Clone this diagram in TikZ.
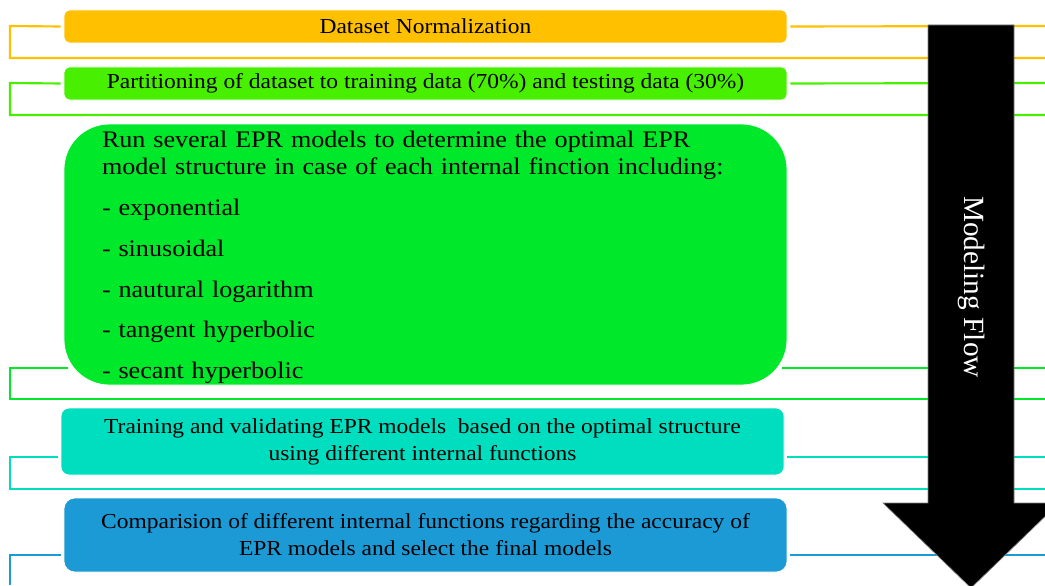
\documentclass[tikz,border=0pt]{standalone}
\usepackage{fontspec}
\setmainfont[FakeStretch=1.1]{Liberation Serif}
\newfontfamily\flowfont{Liberation Serif}
\usetikzlibrary{calc}
\definecolor{cOrange}{RGB}{255,192,0}
\definecolor{cLime}{RGB}{72,240,0}
\definecolor{cGreen}{RGB}{0,232,42}
\definecolor{cTeal}{RGB}{0,222,192}
\definecolor{cBlue}{RGB}{28,154,214}
\tikzset{
  stage/.style={draw=white, line width=0.6pt, inner sep=0pt, minimum width=542.25pt,
    align=center, font=\fontsize{16}{20.25}\selectfont},
  bracket/.style={line width=1.6pt},
}
\begin{document}
\begin{tikzpicture}[x=0.75pt, y=-0.75pt]
\useasboundingbox (0,0) rectangle (1045,585);

% stage boxes
\node[stage, fill=cOrange, rounded corners=4pt, minimum height=24.75pt] (s1) at (425.5,26.5) {Dataset Normalization};
\node[stage, fill=cLime, rounded corners=4pt, minimum height=24.75pt] (s2) at (425.5,83.5)
  {Partitioning of dataset to training data (70\%) and testing data (30\%)};
\node[stage, fill=cGreen, rounded corners=34pt, minimum height=195.75pt] (s3) at (425.5,254.5) {};
\node[align=left, inner sep=0pt, text width=485.25pt, font=\fontsize{17.8}{20.25}\selectfont]
  (s3text) at ($(s3.center)+(0,3)$)
  {Run several EPR models to determine the optimal EPR\\
   model structure in case of each internal finction including:\\[10.3pt]
   - exponential\\[10.3pt]
   - sinusoidal\\[10.3pt]
   - nautural logarithm\\[10.3pt]
   - tangent hyperbolic\\[10.3pt]
   - secant hyperbolic};
\node[stage, fill=cTeal, rounded corners=6pt, minimum height=50.25pt] (s4) at (422.5,441.5)
  {Training and validating EPR models\ \ based on the optimal structure\\
   using different internal functions};
\node[stage, fill=cBlue, rounded corners=8pt, minimum height=55.5pt] (s5) at (425.5,535)
  {Comparision of different internal functions regarding the accuracy of\\
   EPR models and select the final models};

% side brackets of each stage
\coordinate (e1) at (1045,58);
\coordinate (e2) at (1045,115);
\coordinate (e3) at (1045,399);
\coordinate (e4) at (1045,489);
\coordinate (e5) at (10,585);

\draw[bracket, cOrange] ($(s1.west)+(-3,0)$) -- (10,26) -- (10,58) -- (e1);
\draw[bracket, cOrange] ($(s1.east)+(3,0)$) -- (1045,26);
\draw[bracket, cLime] ($(s2.west)+(-3,0)$) -- (10,83) -- (10,115) -- (e2);
\draw[bracket, cLime] ($(s2.east)+(3,0)$) -- (1045,83);
\draw[bracket, cGreen] ($(s3.west |- 0,368)+(4,0)$) -- (10,368) -- (10,399) -- (e3);
\draw[bracket, cGreen] ($(s3.east |- 0,368)+(-5,0)$) -- (1045,368);
\draw[bracket, cTeal] ($(s4.west |- 0,457)+(-3,0)$) -- (10,457) -- (10,489) -- (e4);
\draw[bracket, cTeal] ($(s4.east |- 0,457)+(3,0)$) -- (1045,457);
\draw[bracket, cBlue] ($(s5.west |- 0,555)+(-3,0)$) -- (10,555) -- (e5);
\draw[bracket, cBlue] ($(s5.east |- 0,555)+(3,0)$) -- (1045,555);

% modeling flow arrow
\fill[black, draw=gray, line width=0.5pt]
  (928,25) -- (1014,25) -- (1014,503) -- (1059,503) -- (971,588) -- (883,503) -- (928,503) -- cycle;
\node[rotate=-90, text=white, font=\flowfont\fontsize{22}{26}\selectfont] (flow) at (971,287) {Modeling Flow};
\end{tikzpicture}
\end{document}
